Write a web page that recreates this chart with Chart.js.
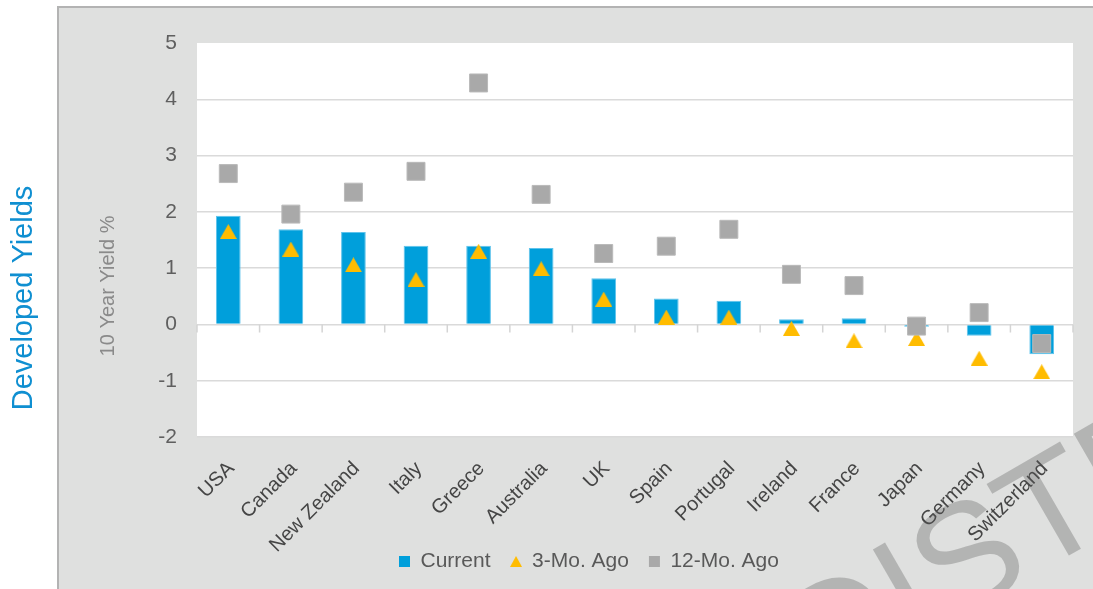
<!DOCTYPE html>
<html>
<head>
<meta charset="utf-8">
<script src="https://cdn.jsdelivr.net/npm/chart.js@4.4.1/dist/chart.umd.min.js"></script>
<style>
  html, body { margin: 0; padding: 0; background: #fff; }
</style>
</head>
<body>
<canvas id="miGrafica" width="1093" height="589"></canvas>
<script>
// Categorías (eje X)
const paises = ["USA", "Canada", "New Zealand", "Italy", "Greece", "Australia", "UK",
  "Spain", "Portugal", "Ireland", "France", "Japan", "Germany", "Switzerland"];
// Rendimientos a 10 años (%)
const actual = [1.93, 1.69, 1.64, 1.40, 1.40, 1.36, 0.82, 0.46, 0.42, 0.09, 0.11, -0.04, -0.20, -0.53];
const hace3Meses = [1.65, 1.34, 1.06, 0.80, 1.30, 0.99, 0.45, 0.13, 0.13, -0.07, -0.29, -0.25, -0.60, -0.84];
const hace12Meses = [2.68, 1.96, 2.35, 2.72, 4.29, 2.31, 1.26, 1.39, 1.69, 0.89, 0.69, -0.03, 0.21, -0.34];
// Eje Y
const yMin = -2;
const yMax = 5;

Chart.defaults.font.family = '"Liberation Sans", Arial, sans-serif';

// triángulo centrado en su caja (como el marcador de Excel)
function hacerTriangulo(w, h, color) {
  const c = document.createElement("canvas");
  c.width = w; c.height = h;
  const g = c.getContext("2d");
  g.fillStyle = color;
  g.beginPath();
  g.moveTo(0, h); g.lineTo(w / 2, 0); g.lineTo(w, h);
  g.closePath();
  g.fill();
  return c;
}
const triangulo = hacerTriangulo(17, 15, "#ffbc00");
const trianguloLeyenda = hacerTriangulo(12, 11, "#ffbc00");

// Fondo gris del panel y área blanca del gráfico
const fondo = {
  id: "fondo",
  afterLayout(chart) {
    // las etiquetas del eje X se meten bajo la leyenda, como en el original
    const x = chart.scales.x;
    x.bottom = chart.height;
    x.height = x.bottom - x.top;
    chart.legend.top -= 7;
    chart.legend.bottom -= 7;
  },
  beforeDraw(chart) {
    const { ctx, chartArea: a, width, height } = chart;
    ctx.save();
    ctx.fillStyle = "#ffffff";
    ctx.fillRect(0, 0, width, height);
    ctx.fillStyle = "#dfe0df";
    ctx.fillRect(58, 7, width - 58, height - 7);
    ctx.fillStyle = "#b3b3b3";
    ctx.fillRect(57, 6, width - 57, 2);
    ctx.fillRect(57, 6, 2, height - 6);
    ctx.fillStyle = "#ffffff";
    ctx.fillRect(a.left, a.top, a.right - a.left, a.bottom - a.top);
    ctx.restore();
  }
};

// Marcas del eje de categorías sobre la línea del cero
const marcas = {
  id: "marcas",
  beforeDatasetsDraw(chart) {
    const { ctx, scales } = chart;
    const x = scales.x, y = scales.y;
    const y0 = y.getPixelForValue(0);
    const medio = (x.getPixelForValue(1) - x.getPixelForValue(0)) / 2;
    ctx.save();
    ctx.strokeStyle = "#d4d4d4";
    ctx.lineWidth = 1.5;
    ctx.beginPath();
    for (let i = 0; i <= paises.length; i++) {
      const px = x.getPixelForValue(Math.min(i, paises.length - 1)) + (i < paises.length ? -medio : medio);
      ctx.moveTo(px, y0);
      ctx.lineTo(px, y0 + 8);
    }
    ctx.stroke();
    ctx.restore();
  }
};

// Títulos y marca de agua
const textos = {
  id: "textos",
  afterDraw(chart) {
    const { ctx } = chart;
    ctx.save();
    ctx.textAlign = "center";
    ctx.textBaseline = "middle";

    ctx.save();
    ctx.translate(108, 286);
    ctx.rotate(-Math.PI / 2);
    ctx.fillStyle = "#8a8a8a";
    ctx.font = '20px "Liberation Sans"';
    ctx.fillText("10 Year Yield %", 0, 0);
    ctx.restore();

    ctx.save();
    ctx.translate(24, 298);
    ctx.rotate(-Math.PI / 2);
    ctx.fillStyle = "#0f8fd1";
    ctx.font = '29px "Liberation Sans"';
    ctx.fillText("Developed Yields", 0, 0);
    ctx.restore();

    // marca de agua
    ctx.save();
    ctx.globalAlpha = 0.33;
    ctx.fillStyle = "#5a5a5a";
    ctx.font = '150px "Liberation Sans"';
    ctx.textAlign = "left";
    ctx.textBaseline = "alphabetic";
    ctx.translate(992, 600);
    ctx.rotate(-Math.PI / 6);
    const off = ctx.measureText("DI").width + ctx.measureText("S").width / 2;
    ctx.fillText("DISTRIBUTION", -off, 0);
    ctx.restore();

    ctx.restore();
  }
};

const ctx = document.getElementById("miGrafica").getContext("2d");
new Chart(ctx, {
  type: "bar",
  data: {
    labels: paises,
    datasets: [
      {
        label: "Current",
        data: actual,
        backgroundColor: "#009fdb",
        borderColor: "#5ec3ec",
        borderWidth: 1,
        barPercentage: 0.395,
        categoryPercentage: 1,
        order: 3
      },
      {
        type: "line",
        label: "3-Mo. Ago",
        data: hace3Meses,
        showLine: false,
        pointStyle: triangulo,
        pointRadius: 9,
        pointHoverRadius: 9,
        backgroundColor: "#ffbc00",
        borderColor: "#ffbc00",
        order: 2
      },
      {
        type: "line",
        label: "12-Mo. Ago",
        data: hace12Meses,
        showLine: false,
        pointStyle: "rect",
        pointRadius: 12.7,
        pointHoverRadius: 12.7,
        backgroundColor: "#a9a9a9",
        borderColor: "#b9b9b9",
        pointBorderWidth: 1,
        order: 1
      }
    ]
  },
  options: {
    responsive: false,
    animation: false,
    layout: { padding: { left: 105, right: 20, top: 43, bottom: 0 } },
    plugins: {
      tooltip: { enabled: false },
      legend: {
        position: "bottom",
        labels: {
          usePointStyle: true,
          boxWidth: 11,
          boxHeight: 11,
          padding: 20,
          color: "#595959",
          font: { size: 21 },
          generateLabels(chart) {
            const items = Chart.defaults.plugins.legend.labels.generateLabels(chart);
            items.sort((a, b) => a.datasetIndex - b.datasetIndex);
            items.forEach(it => { it.lineWidth = 0; it.strokeStyle = "rgba(0,0,0,0)"; });
            items[0].pointStyle = "rect";
            items[0].fillStyle = "#009fdb";
            items[1].pointStyle = trianguloLeyenda;
            items[2].pointStyle = "rect";
            items[2].fillStyle = "#a9a9a9";
            return items;
          }
        }
      }
    },
    scales: {
      x: {
        grid: { display: false },
        border: { display: false },
        ticks: {
          autoSkip: false,
          minRotation: 45,
          maxRotation: 45,
          padding: 12,
          labelOffset: 3,
          color: "#454545",
          font: { size: 20 }
        },
        afterFit(s) { s.height = 101; }
      },
      y: {
        min: yMin,
        max: yMax,
        ticks: {
          stepSize: 1,
          padding: 20,
          color: "#5f5f5f",
          font: { size: 21 }
        },
        grid: {
          drawTicks: false,
          lineWidth: 1.5,
          color: c => (c.tick && c.tick.value === yMax ? "rgba(0,0,0,0)" : "#dadada")
        },
        border: { display: false },
        afterFit(s) { s.width = 92; }
      }
    }
  },
  plugins: [fondo, marcas, textos]
});
</script>
</body>
</html>
